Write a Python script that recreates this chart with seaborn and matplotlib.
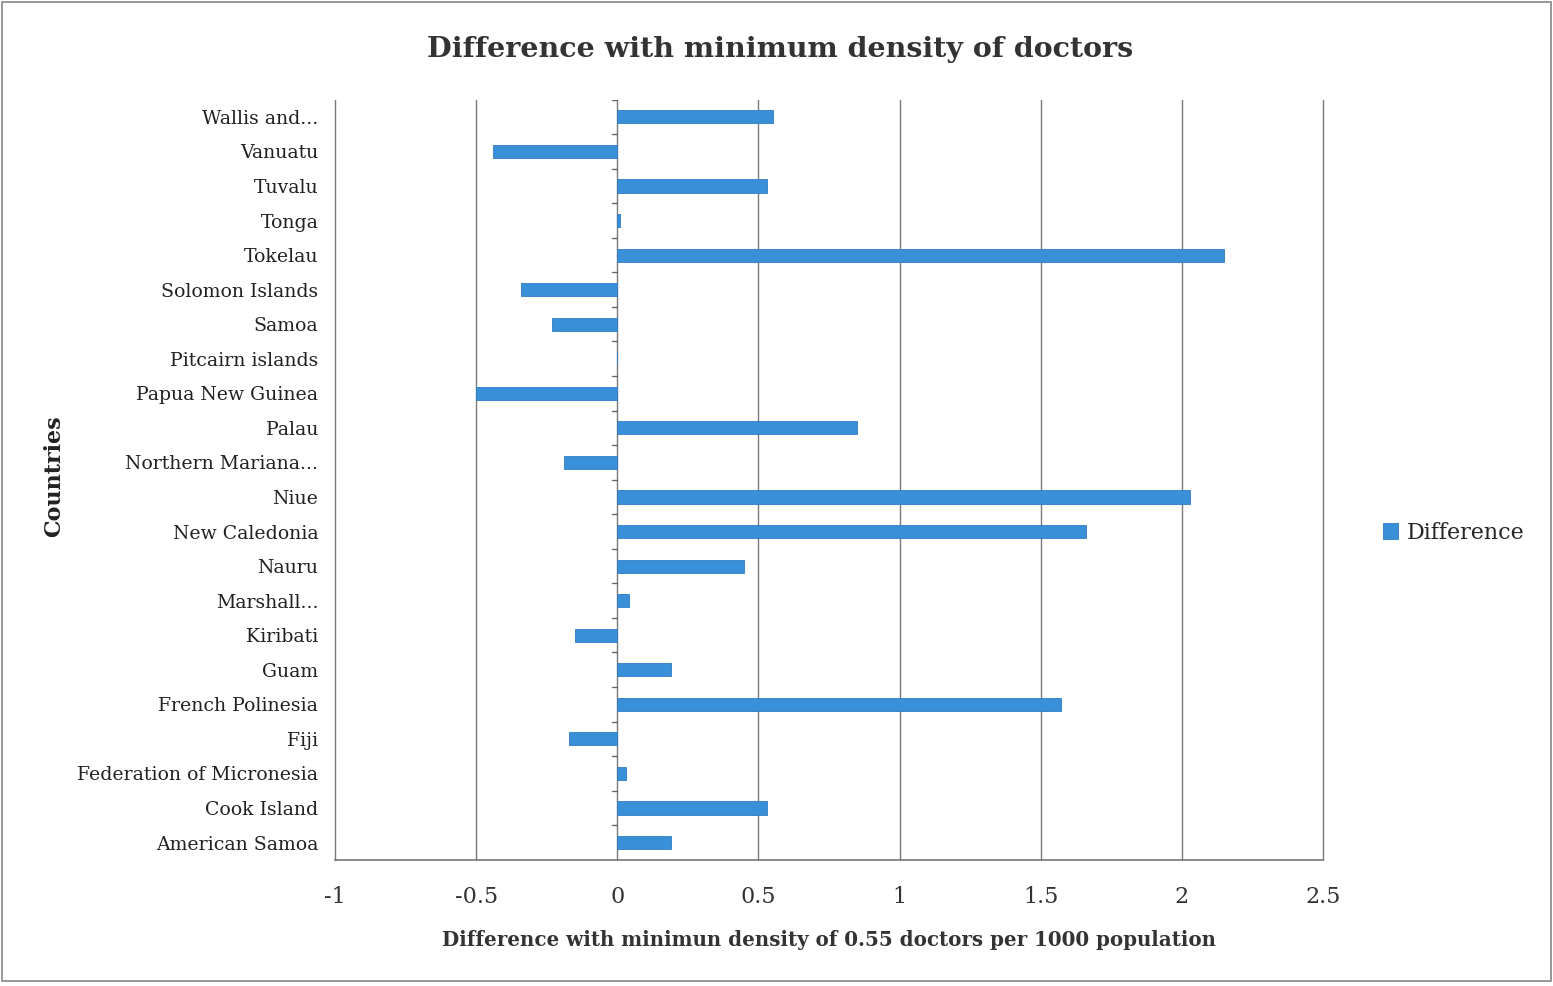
import matplotlib
matplotlib.use('Agg')
import matplotlib.pyplot as plt
import seaborn as sns
import pandas as pd
from matplotlib.patches import Rectangle

# Dados (de cima para baixo, como no gráfico)
paises = ['Wallis and...', 'Vanuatu', 'Tuvalu', 'Tonga', 'Tokelau', 'Solomon Islands',
          'Samoa', 'Pitcairn islands', 'Papua New Guinea', 'Palau', 'Northern Mariana...',
          'Niue', 'New Caledonia', 'Nauru', 'Marshall...', 'Kiribati', 'Guam',
          'French Polinesia', 'Fiji', 'Federation of Micronesia', 'Cook Island',
          'American Samoa']
diferenca = [0.55, -0.44, 0.53, 0.01, 2.15, -0.34, -0.23, 0.0, -0.50, 0.85, -0.19,
             2.03, 1.66, 0.45, 0.04, -0.15, 0.19, 1.57, -0.17, 0.03, 0.53, 0.19]
ticks_x = [-1, -0.5, 0, 0.5, 1, 1.5, 2, 2.5]

df = pd.DataFrame({'Pais': paises, 'Difference': diferenca})

sns.set_style('white')
plt.rcParams['font.family'] = ['DejaVu Serif']

fig = plt.figure(figsize=(15.53, 9.86), dpi=100)
ax = fig.add_axes([0.2157, 0.128, 0.6363, 0.771])

cor = '#3a8fd9'
sns.barplot(data=df, y='Pais', x='Difference', order=paises, orient='h',
            color=cor, saturation=1, width=0.38, edgecolor='#2f7cc4', linewidth=0.6,
            ax=ax, label='Difference')

ax.set_xlim(-1, 2.5)
ax.set_ylim(len(paises) - 0.5, -0.5)
ax.set_xticks(ticks_x)
ax.set_xticklabels([f'{t:g}' for t in ticks_x], fontsize=16, color='#333333')
for t in ticks_x:
    ax.axvline(t, color='#7a7a7a', lw=1.0, zorder=0, clip_on=False)

# eixo vertical em zero com marcas entre categorias
for i in range(len(paises) + 1):
    ax.plot([-0.02, 0], [i - 0.5, i - 0.5], color='#666666', lw=1, zorder=1)

for s in ['top', 'right', 'left']:
    ax.spines[s].set_visible(False)
ax.spines['bottom'].set_color('#777777')
ax.spines['bottom'].set_linewidth(1.2)
ax.tick_params(axis='x', length=6, color='#777777', pad=13)
ax.tick_params(axis='y', length=0, pad=12)
for lab in ax.get_yticklabels():
    lab.set_fontsize(13.6)
    lab.set_color('#222222')

ax.set_xlabel('Difference with minimun density of 0.55 doctors per 1000 population',
              fontsize=14.3, fontweight='bold', color='#333333', labelpad=16)
ax.set_ylabel('Countries', fontsize=16, fontweight='bold', color='#222222')
ax.yaxis.set_label_coords(-0.273, 0.504)
fig.suptitle('Difference with minimum density of doctors', fontsize=20.5,
             fontweight='bold', color='#333333', y=0.963, x=0.502)

ax.legend(loc='center left', bbox_to_anchor=(1.04, 0.43), frameon=False,
          fontsize=16, handlelength=0.7, handleheight=0.7, handletextpad=0.4)

fig.patches.append(Rectangle((0.001, 0.005), 0.998, 0.993, transform=fig.transFigure,
                             fill=False, edgecolor='#888888', lw=1.2))

fig.savefig('out.png', dpi=100)
